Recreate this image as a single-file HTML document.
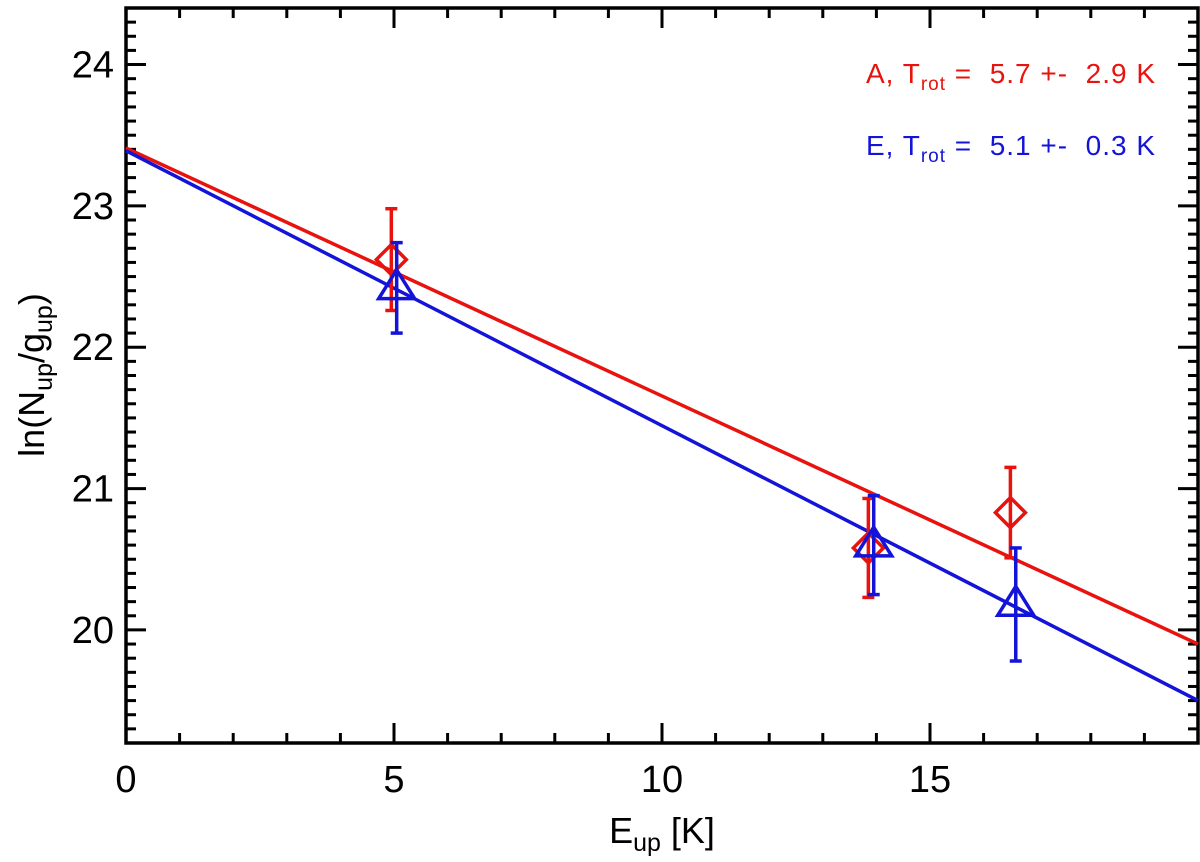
<!DOCTYPE html>
<html><head><meta charset="utf-8"><style>
html,body{margin:0;padding:0;background:#fff;width:1200px;height:862px;overflow:hidden}
svg text{font-family:"Liberation Sans",Helvetica,sans-serif;white-space:pre}
</style></head><body>
<svg id="chart" width="1200" height="862" viewBox="0 0 1200 862" xmlns="http://www.w3.org/2000/svg">
<g id="grid"></g>
<g id="marks"></g>
<text x="662" y="843" font-size="36" text-anchor="middle">E<tspan font-size="25" dy="8">up</tspan><tspan dy="-8"> [K]</tspan></text>
<text transform="translate(44,375) rotate(-90)" font-size="36" text-anchor="middle">ln(N<tspan font-size="25" dy="8">up</tspan><tspan dy="-8">/g</tspan><tspan font-size="25" dy="8">up</tspan><tspan dy="-8">)</tspan></text>
<text x="1155" y="83" font-size="28" fill="#e8130e" text-anchor="end" textLength="289" lengthAdjust="spacing">A, T<tspan font-size="19" dy="7">rot</tspan><tspan dy="-7"> =  5.7 +-  2.9 K</tspan></text>
<text x="1155" y="155" font-size="28" fill="#1414d8" text-anchor="end" textLength="289" lengthAdjust="spacing">E, T<tspan font-size="19" dy="7">rot</tspan><tspan dy="-7"> =  5.1 +-  0.3 K</tspan></text>
</svg>
<script>
const xTicks=[0,5,10,15];
const yTicks=[20,21,22,23,24];
const aE=[4.95,13.85,16.5];
const aY=[22.62,20.58,20.83];
const aErr=[0.36,0.35,0.32];
const eE=[5.05,13.95,16.6];
const eY=[22.42,20.6,20.18];
const eErr=[0.32,0.35,0.4];
const aFit=[23.41,19.9];
const eFit=[23.39,19.5];
const X0=126,X1=1198,Y0=743,Y1=8,xmin=0,xmax=20,ymin=19.2,ymax=24.4;
const sx=v=>X0+(v-xmin)/(xmax-xmin)*(X1-X0);
const sy=v=>Y0-(v-ymin)/(ymax-ymin)*(Y0-Y1);
const NS='http://www.w3.org/2000/svg';
function mk(p,t,a){const e=document.createElementNS(NS,t);for(const k in a)e.setAttribute(k,a[k]);p.appendChild(e);return e;}
const g=document.getElementById('grid'),m=document.getElementById('marks');
const frame=mk(g,'rect',{x:X0,y:Y1,width:X1-X0,height:Y0-Y1,fill:'none',stroke:'#000','stroke-width':3.5});


for(let v=0;v<=20;v++){const x=sx(v),L=v%5==0?20:10;
 mk(g,'line',{x1:x,x2:x,y1:Y0,y2:Y0-L,stroke:'#000','stroke-width':3});
 mk(g,'line',{x1:x,x2:x,y1:Y1,y2:Y1+L,stroke:'#000','stroke-width':3});}
for(let i=193;i<=244;i++){const v=i/10,y=sy(v),L=i%10==0?20:10;
 mk(g,'line',{x1:X0,x2:X0+L,y1:y,y2:y,stroke:'#000','stroke-width':3});
 mk(g,'line',{x1:X1,x2:X1-L,y1:y,y2:y,stroke:'#000','stroke-width':3});}
xTicks.forEach(v=>{const t=mk(g,'text',{x:sx(v),y:792,'font-size':38,'text-anchor':'middle'});t.textContent=v;
 
 });
yTicks.forEach(v=>{const t=mk(g,'text',{x:114,y:sy(v)+13,'font-size':38,'text-anchor':'end'});t.textContent=v;
 
 });
function fit(f,c,n){const l=mk(m,'line',{x1:sx(0),y1:sy(f[0]),x2:sx(20),y2:sy(f[1]),stroke:c,'stroke-width':3.5});
 
 }
fit(aFit,'#e8130e','fit-line-a');fit(eFit,'#1414d8','fit-line-e');
function err(x,y,e,c){const X=sx(x);mk(m,'line',{x1:X,x2:X,y1:sy(y-e),y2:sy(y+e),stroke:c,'stroke-width':3.5});
 [y-e,y+e].forEach(v=>mk(m,'line',{x1:X-6,x2:X+6,y1:sy(v),y2:sy(v),stroke:c,'stroke-width':3.5}));}
aE.forEach((x,i)=>{err(x,aY[i],aErr[i],'#e8130e');const X=sx(x),Y=sy(aY[i]),r=15;
 const p=mk(m,'polygon',{points:`${X},${Y-r} ${X+r},${Y} ${X},${Y+r} ${X-r},${Y}`,fill:'none',stroke:'#e8130e','stroke-width':3.5});
 
 });
eE.forEach((x,i)=>{err(x,eY[i],eErr[i],'#1414d8');const X=sx(x),Y=sy(eY[i]),r=18;
 const p=mk(m,'polygon',{points:`${X},${Y-r} ${X+r},${Y+r*0.6} ${X-r},${Y+r*0.6}`,fill:'none',stroke:'#1414d8','stroke-width':3.5});
 
 });
</script>
</body></html>
